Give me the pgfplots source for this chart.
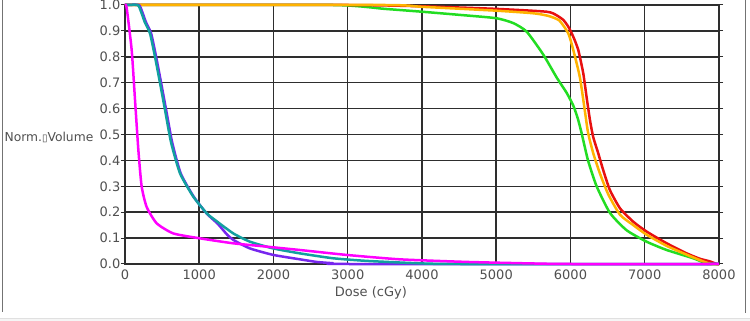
\documentclass[border=0pt]{standalone}
\usepackage{pgfplots}
\pgfplotsset{compat=1.18}
\usepackage{fontspec}
\setmainfont{DejaVu Sans}
\definecolor{cOrange}{HTML}{FFB300}
\definecolor{cRed}{HTML}{E81010}
\definecolor{cGreen}{HTML}{22DD22}
\definecolor{cMag}{HTML}{FF00FF}
\definecolor{cPurple}{HTML}{7726EE}
\definecolor{cTeal}{HTML}{12A0A0}
\definecolor{cGrid}{HTML}{2E2E2E}
\definecolor{cText}{HTML}{505050}
\begin{document}
\begin{tikzpicture}[x=1pt,y=1pt]
\fontsize{13}{15}\selectfont
\path[use as bounding box] (0,0) rectangle (750,321);
\fill[white] (0,0) rectangle (750,321);
\fill[black!4] (0,0) rectangle (750,3);
\draw[black!12,line width=0.8pt] (0,3) -- (750,3);
\draw[black!55,line width=1pt] (2.5,321) -- (2.5,9);
\draw[black!55,line width=1pt] (745,321) -- (745,8);
\begin{axis}[
  at={(125pt,57pt)}, anchor=south west,
  scale only axis, width=594pt, height=259pt,
  xmin=0, xmax=8000, ymin=0, ymax=1,
  xtick={0,1000,...,8000}, ytick={0,0.1,...,1.0},
  grid=major,
  major grid style={cGrid, line width=1.5pt},
  axis line style={cGrid, line width=1.5pt},
  tick style={cGrid, line width=1pt},
  tick align=outside, major tick length=4pt,
  xtick style={draw=none},
  ticklabel style={text=cText, font=\fontsize{13}{15}\selectfont},
  /pgf/number format/assume math mode=true,
  /pgf/number format/1000 sep={},
  yticklabel={\pgfmathprintnumber[fixed,fixed zerofill,precision=1]{\tick}},
  yticklabel style={anchor=east, inner sep=0pt, xshift=-0.5pt},
  xticklabel style={anchor=north, inner sep=0pt, yshift=-2pt},
  xlabel={Dose (cGy)},
  ylabel={Norm.{\fontsize{10}{12}\selectfont▯}Volume},
  every axis x label/.style={at={(rel axis cs:0.414,0)}, anchor=center, yshift=-29pt, text=cText, inner sep=0pt},
  every axis y label/.style={at={(rel axis cs:-0.2030,0.490)}, anchor=west, text=cText, inner sep=0pt, font=\fontsize{12.3}{15}\selectfont},
  clip=false,
  every axis plot/.append style={line width=2.5pt, line join=round, smooth, tension=0.35},
]
\addplot[cGreen] coordinates {(0,1) (2800,1) (3500,0.985) (4000,0.974) (4500,0.962) (5000,0.949) (5230,0.93) (5410,0.897) (5630,0.81) (5814,0.72) (5950,0.66) (6040,0.61) (6100,0.56) (6150,0.505) (6236,0.40) (6352,0.30) (6532,0.197) (6757,0.13) (7026,0.086) (7296,0.054) (7654,0.022) (7850,0.0) (8000,0)};
\addplot[cRed] coordinates {(0,1) (3000,1) (4000,0.995) (5000,0.985) (5679,0.974) (5814,0.96) (5904,0.942) (5971,0.916) (6038,0.877) (6105,0.826) (6172,0.736) (6216,0.646) (6262,0.556) (6306,0.49) (6373,0.428) (6440,0.363) (6530,0.286) (6667,0.215) (6846,0.163) (7026,0.125) (7295,0.08) (7565,0.041) (7744,0.02) (7879,0.01) (7968,0) (8000,0)};
\addplot[cOrange] coordinates {(0,1) (3500,1) (4000,0.993) (5000,0.978) (5500,0.968) (5700,0.958) (5850,0.94) (5971,0.89) (6038,0.826) (6127,0.72) (6194,0.59) (6238,0.505) (6306,0.428) (6396,0.35) (6507,0.27) (6667,0.19) (6846,0.15) (7026,0.113) (7295,0.07) (7565,0.036) (7744,0.015) (7834,0.005) (7900,0) (8000,0)};
\addplot[cPurple] coordinates {(0,1) (185,1) (230,0.975) (280,0.935) (352,0.89) (419,0.80) (486,0.70) (554,0.595) (635,0.47) (750,0.35) (925,0.26) (1100,0.195) (1250,0.155) (1370,0.115) (1459,0.093) (1684,0.06) (1998,0.035) (2357,0.018) (2581,0.008) (2800,0.003) (3000,0) (8000,0)};
\addplot[cTeal] coordinates {(0,1) (170,1) (215,0.975) (265,0.935) (337,0.89) (404,0.80) (471,0.70) (539,0.595) (620,0.47) (741,0.35) (920,0.26) (1100,0.196) (1235,0.165) (1459,0.118) (1684,0.086) (1998,0.06) (2357,0.041) (2806,0.022) (3255,0.012) (3929,0.003) (4500,0) (8000,0)};
\addplot[cMag] coordinates {(0,1) (22,0.99) (90,0.826) (135,0.633) (180,0.44) (224,0.30) (292,0.22) (427,0.157) (651,0.118) (1010,0.099) (1455,0.08) (1908,0.067) (2357,0.054) (2986,0.035) (3704,0.018) (4602,0.008) (5500,0.002) (6000,0) (8000,0)};
\end{axis}
\end{tikzpicture}
\end{document}
